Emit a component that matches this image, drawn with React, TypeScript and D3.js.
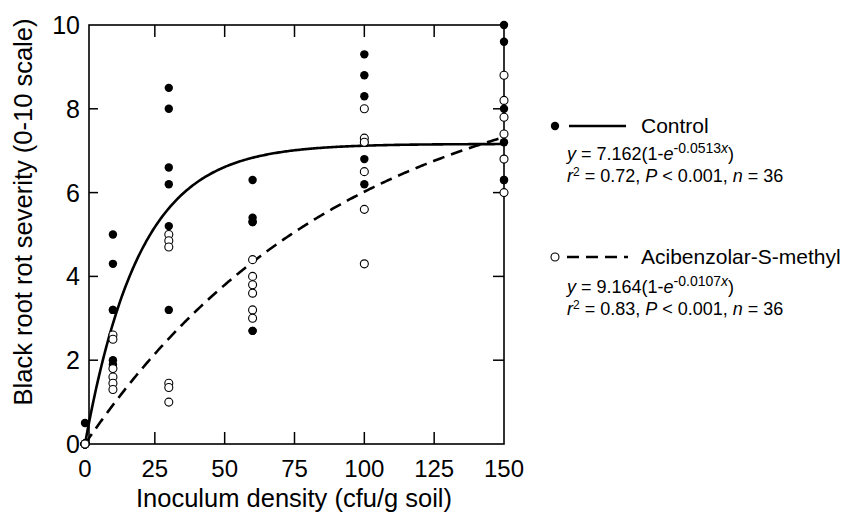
import React from "react";
import * as d3 from "d3";

const densities = [0, 10, 30, 60, 100, 150];
const controlValues = [
  [0.5, 0, 0, 0, 0, 0],
  [5.0, 4.3, 3.2, 3.2, 2.0, 1.9],
  [8.5, 8.0, 6.6, 6.2, 5.2, 3.2],
  [6.3, 5.4, 5.3, 5.3, 2.7, 2.7],
  [9.3, 8.8, 8.3, 7.2, 6.8, 6.2],
  [10.0, 9.6, 8.0, 7.2, 6.3, 6.3],
];
const asmValues = [
  [0, 0, 0, 0, 0, 0],
  [2.6, 2.5, 1.8, 1.6, 1.45, 1.3],
  [5.0, 4.85, 4.7, 1.45, 1.35, 1.0],
  [4.4, 4.0, 3.8, 3.6, 3.2, 3.0],
  [8.0, 7.3, 6.5, 5.6, 4.3, 7.2],
  [8.8, 8.2, 7.8, 7.4, 6.8, 6.0],
];
const controlFit = [7.162, 0.0513];
const asmFit = [9.164, 0.0107];
const xTicks = [0, 25, 50, 75, 100, 125, 150];
const yTicks = [0, 2, 4, 6, 8, 10];

const FONT = "'Liberation Sans', Arial, Helvetica, sans-serif";

function Equation({ x0, y0, a, b }: { x0: number; y0: number; a: string; b: string }) {
  return (
    <text x={x0} y={y0} fontSize={18}>
      <tspan fontStyle="italic">y</tspan>
      <tspan>{` = ${a}(1-`}</tspan>
      <tspan fontStyle="italic">e</tspan>
      <tspan dy={-7} fontSize={14}>{b}</tspan>
      <tspan fontSize={14} fontStyle="italic">x</tspan>
      <tspan dy={7}>)</tspan>
    </text>
  );
}

function Stats({ x0, y0, r2 }: { x0: number; y0: number; r2: string }) {
  return (
    <text x={x0} y={y0} fontSize={18}>
      <tspan fontStyle="italic">r</tspan>
      <tspan dy={-6} fontSize={12}>2</tspan>
      <tspan dy={6}>{` = ${r2}, `}</tspan>
      <tspan fontStyle="italic">P</tspan>
      <tspan> &lt; 0.001, </tspan>
      <tspan fontStyle="italic">n</tspan>
      <tspan> = 36</tspan>
    </text>
  );
}

export default function App() {
  const W = 860, H = 514;
  const x = d3.scaleLinear().domain([0, 150]).range([85, 504]);
  const y = d3.scaleLinear().domain([0, 10]).range([444, 25]);
  const boxL = 89, boxR = 504, boxT = 25, boxB = 444;

  const xs = d3.range(0, 150.01, 0.5);
  const controlPath =
    d3
      .line<number>()
      .x((d) => x(d))
      .y((d) => y(controlFit[0] * (1 - Math.exp(-controlFit[1] * d))))(xs) || "";
  const asmPath =
    d3
      .line<number>()
      .x((d) => x(d))
      .y((d) => y(asmFit[0] * (1 - Math.exp(-asmFit[1] * d))))(xs) || "";

  const ctrlPts: [number, number][] = [];
  controlValues.forEach((vals, i) => vals.forEach((v) => ctrlPts.push([densities[i], v])));
  const asmPts: [number, number][] = [];
  asmValues.forEach((vals, i) => vals.forEach((v) => asmPts.push([densities[i], v])));

  const innerX = xTicks.filter((t) => t > 0 && t < 150);
  const innerY = yTicks.filter((t) => t > 0 && t < 10);

  return (
    <div style={{ position: "absolute", left: 0, top: 0 }}>
      <svg width={W} height={H} style={{ display: "block", background: "#fff" }} fontFamily={FONT}>
        <rect x={0} y={0} width={W} height={H} fill="#fff" />
        <rect x={boxL} y={boxT} width={boxR - boxL} height={boxB - boxT} fill="none" stroke="#000" strokeWidth={1.6} />
        {innerX.map((t) => (
          <g key={"xt" + t}>
            <line x1={x(t)} x2={x(t)} y1={boxB} y2={boxB - 12} stroke="#000" strokeWidth={1.5} />
            <line x1={x(t)} x2={x(t)} y1={boxT} y2={boxT + 12} stroke="#000" strokeWidth={1.5} />
          </g>
        ))}
        {innerY.map((t) => (
          <g key={"yt" + t}>
            <line x1={boxL} x2={boxL + 9} y1={y(t)} y2={y(t)} stroke="#000" strokeWidth={1.5} />
            <line x1={boxR} x2={boxR - 11} y1={y(t)} y2={y(t)} stroke="#000" strokeWidth={1.5} />
          </g>
        ))}
        {xTicks.map((t) => (
          <text key={"xl" + t} x={x(t)} y={477} fontSize={24} textAnchor="middle">
            {t}
          </text>
        ))}
        {yTicks.map((t) => (
          <text key={"yl" + t} x={80} y={y(t) + 9} fontSize={25} textAnchor="end">
            {t}
          </text>
        ))}
        <text x={294} y={507} fontSize={25.5} textAnchor="middle">
          Inoculum density (cfu/g soil)
        </text>
        <text transform={`translate(32,${212}) rotate(-90)`} fontSize={25.5} textAnchor="middle">
          Black root rot severity (0-10 scale)
        </text>
        <path d={controlPath} fill="none" stroke="#000" strokeWidth={2.6} />
        <path d={asmPath} fill="none" stroke="#000" strokeWidth={2.6} strokeDasharray="12,7" />
        {ctrlPts.map((p, i) => (
          <circle key={"c" + i} cx={x(p[0])} cy={y(p[1])} r={4.2} fill="#000" />
        ))}
        {asmPts.map((p, i) => (
          <circle key={"a" + i} cx={x(p[0])} cy={y(p[1])} r={4} fill="#fff" stroke="#000" strokeWidth={1.1} />
        ))}
        {/* legend */}
        <circle cx={555} cy={126} r={4.2} fill="#000" />
        <line x1={569} x2={626} y1={126} y2={126} stroke="#000" strokeWidth={2.4} />
        <text x={641} y={133} fontSize={21}>Control</text>
        <Equation x0={567} y0={160} a="7.162" b="-0.0513" />
        <Stats x0={567} y0={182} r2="0.72" />

        <circle cx={555} cy={257} r={4} fill="#fff" stroke="#000" strokeWidth={1.1} />
        <line x1={567} x2={628} y1={257} y2={257} stroke="#000" strokeWidth={2.4} strokeDasharray="12,7" />
        <text x={641} y={264} fontSize={21}>Acibenzolar-S-methyl</text>
        <Equation x0={567} y0={293} a="9.164" b="-0.0107" />
        <Stats x0={567} y0={315} r2="0.83" />
      </svg>
    </div>
  );
}
